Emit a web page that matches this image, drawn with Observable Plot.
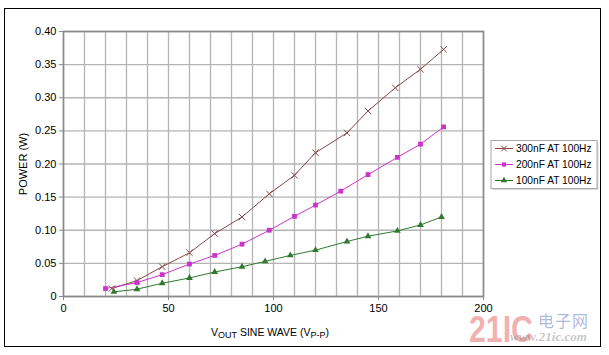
<!DOCTYPE html>
<html>
<head>
<meta charset="utf-8">
<script src="https://cdn.jsdelivr.net/npm/d3@7"></script>
<script src="https://cdn.jsdelivr.net/npm/@observablehq/plot@0.6"></script>
<style>
  html, body { margin: 0; padding: 0; background: #fff; }
  #wrap { position: relative; width: 609px; height: 355px; overflow: hidden; background: #fff; }
  #border { position: absolute; left: 4px; top: 8px; width: 597px; height: 339px; border: 1.5px solid #000; box-sizing: border-box; pointer-events: none; }
  .wm { position: absolute; pointer-events: none; white-space: nowrap; }
  #wm1 { left: 469px; top: 318px; font: bold 36px "Liberation Sans", Arial, sans-serif; line-height: 24px; color: rgba(232, 110, 110, 0.55); transform: scaleX(0.84); transform-origin: 0 0; }
  #wm2 { left: 538px; top: 312px; font: 16px "Noto Sans CJK SC", sans-serif; line-height: 17px; color: rgba(120, 140, 195, 0.6); letter-spacing: 1px; }
  #wm3 { left: 510px; top: 330px; font: italic bold 13px "Liberation Serif", serif; line-height: 13px; color: rgba(130, 130, 130, 0.45); }
</style>
</head>
<body>
<div id="wrap">
  <div id="chart"></div>
  <div id="border"></div>
  <div class="wm" id="wm1">21IC</div>
  <div class="wm" id="wm2">电子网</div>
  <div class="wm" id="wm3">www.21ic.com</div>
</div>
<script>
// Series names, colours and marker symbols
const seriesNames = ["300nF AT 100Hz", "200nF AT 100Hz", "100nF AT 100Hz"];
const seriesColors = ["#8a4646", "#cc33cc", "#2f7a2f"];
const seriesSymbols = ["times", "square", "triangle"];

// Output voltage (Vp-p) and dissipated power (W) for each capacitive load
const vout300 = [23, 35, 47, 60, 72, 85, 98, 110, 120, 135, 145, 158, 170, 181];
const power300 = [0.012, 0.024, 0.045, 0.066, 0.095, 0.120, 0.155, 0.183, 0.217, 0.247, 0.280, 0.315, 0.343, 0.373];

const vout200 = [20, 35, 47, 60, 72, 85, 98, 110, 120, 132, 145, 159, 170, 181];
const power200 = [0.012, 0.021, 0.033, 0.049, 0.062, 0.079, 0.100, 0.121, 0.138, 0.159, 0.184, 0.210, 0.230, 0.256];

const vout100 = [24, 35, 47, 60, 72, 85, 96, 108, 120, 135, 145, 159, 170, 180];
const power100 = [0.007, 0.011, 0.020, 0.028, 0.037, 0.045, 0.053, 0.062, 0.070, 0.083, 0.091, 0.099, 0.108, 0.120];

// Axis ticks
const xTicks = [0, 50, 100, 150, 200];
const xGrid = d3.range(0, 201, 10);
const yTicks = [0, 0.05, 0.10, 0.15, 0.20, 0.25, 0.30, 0.35, 0.40];

const voutSets = [vout300, vout200, vout100];
const powerSets = [power300, power200, power100];
const rows = seriesNames.flatMap((name, i) =>
  voutSets[i].map((v, j) => ({ series: name, vout: v, power: powerSets[i][j] }))
);

const font = '"Liberation Sans", Arial, Helvetica, sans-serif';

const dotMarks = seriesNames.map((name, i) => {
  const data = rows.filter(d => d.series === name);
  const sym = seriesSymbols[i];
  if (sym === "times") {
    return Plot.dot(data, { x: "vout", y: "power", symbol: () => sym, stroke: seriesColors[i], strokeWidth: 1, r: 3 });
  }
  return Plot.dot(data, { x: "vout", y: "power", symbol: () => sym, fill: seriesColors[i], stroke: "none", r: sym === "square" ? 2.7 : 2.5 });
});

const chart = Plot.plot({
  width: 609,
  height: 355,
  marginLeft: 63,
  marginRight: 126,
  marginTop: 31,
  marginBottom: 59,
  style: { fontFamily: font, fontSize: "11px", color: "#000", background: "transparent", overflow: "visible" },
  x: { domain: [0, 200] },
  y: { domain: [0, 0.4] },
  symbol: { domain: seriesNames, range: seriesSymbols },
  marks: [
    Plot.gridX(xGrid, { stroke: "#b4b4b4", strokeOpacity: 1, strokeWidth: 1.3 }),
    Plot.gridY(yTicks, { stroke: "#b4b4b4", strokeOpacity: 1, strokeWidth: 1.3 }),
    Plot.frame({ stroke: "#8a8a8a", strokeWidth: 1.6 }),
    Plot.axisX(xTicks, { tickSize: 4, tickPadding: 4, stroke: "#8a8a8a", label: null, fontSize: 11 }),
    Plot.axisY(yTicks, {
      tickSize: 4, tickPadding: 3, stroke: "#8a8a8a", fontSize: 11,
      tickFormat: d => d === 0 ? "0" : d3.format(".2f")(d),
      label: "POWER (W)", labelAnchor: "center", labelArrow: "none", labelOffset: 44
    }),
    ...seriesNames.map((name, i) =>
      Plot.line(rows.filter(d => d.series === name), { x: "vout", y: "power", stroke: seriesColors[i], strokeWidth: 1 })
    ),
    ...dotMarks
  ]
});

document.getElementById("chart").appendChild(chart);

const svg = d3.select(chart);
const xs = chart.scale("x");
const ys = chart.scale("y");

// X axis title with subscripts
const title = svg.append("text")
  .attr("x", xs.apply(100) - 3)
  .attr("y", 336)
  .attr("text-anchor", "middle")
  .style("font-family", font)
  .style("font-size", "10.5px")
  .attr("fill", "#000");
title.append("tspan").text("V");
title.append("tspan").style("font-size", "9px").attr("dy", 1.5).text("OUT");
title.append("tspan").attr("dy", -1.5).text(" SINE WAVE (V");
title.append("tspan").style("font-size", "9px").attr("dy", 1.5).text("P-P");
title.append("tspan").attr("dy", -1.5).text(")");

// Legend box to the right of the plot
const lx = xs.apply(200) + 8;
const ly = ys.apply(0.2) - 23;
const legend = svg.append("g").attr("transform", `translate(${lx},${ly})`).attr("text-anchor", "start");
legend.append("rect").attr("x", 1.5).attr("y", 1.5).attr("width", 106).attr("height", 48).attr("fill", "#d8d8d8");
legend.append("rect").attr("width", 106).attr("height", 48).attr("fill", "#fff").attr("stroke", "#a8a8a8").attr("stroke-width", 1);
seriesNames.forEach((name, i) => {
  const cy = 8 + i * 16;
  const g = legend.append("g").attr("transform", `translate(0,${cy})`);
  g.append("line").attr("x1", 4).attr("x2", 22).attr("y1", 0).attr("y2", 0).attr("stroke", seriesColors[i]).attr("stroke-width", 1);
  const sym = seriesSymbols[i];
  const type = sym === "times" ? d3.symbolTimes : sym === "square" ? d3.symbolSquare : d3.symbolTriangle;
  g.append("path")
    .attr("transform", "translate(13,0)")
    .attr("d", d3.symbol(type, sym === "times" ? 22 : 18)())
    .attr("fill", sym === "times" ? "none" : seriesColors[i])
    .attr("stroke", sym === "times" ? seriesColors[i] : "none");
  g.append("text").attr("x", 25).attr("y", 0).attr("dy", "0.35em")
    .attr("text-anchor", "start")
    .style("font-family", font).style("font-size", "10.2px").attr("fill", "#000").text(name);
});
</script>
</body>
</html>
